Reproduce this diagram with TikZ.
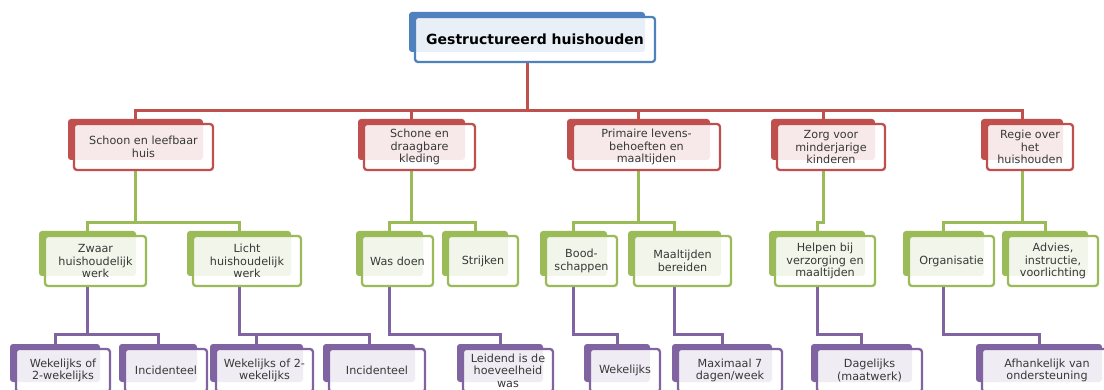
\documentclass[tikz,border=0pt]{standalone}
\usepackage{fontspec}
\setmainfont{DejaVu Sans}
\usetikzlibrary{backgrounds,calc}
\definecolor{cblue}{HTML}{4F81BD}
\definecolor{cred}{HTML}{C0504D}
\definecolor{cgreen}{HTML}{9BBB59}
\definecolor{cpurple}{HTML}{8064A2}
\definecolor{txt}{HTML}{383838}
\tikzset{
  card/.style={draw=#1, line width=2.3pt, rounded corners=3pt, fill=white,
    fill opacity=0.88, draw opacity=1, text opacity=1, inner sep=0pt, outer sep=0pt,
    anchor=north west, align=center, font=\fontsize{11.2}{12.4}\selectfont, text=txt},
  cardback/.style={fill=#1, rounded corners=3pt, inner sep=0pt, outer sep=0pt,
    anchor=north west},
  conn/.style={draw=#1, line width=3pt},
}
% #1 name, #2 colour, #3 left, #4 top, #5 right, #6 bottom, #7 text, #8 extra options
\newcommand\card[8]{%
  \node[cardback=#2, minimum width={(#5-#3-4)*1pt}, minimum height={(#6-#4-5)*1pt}] (#1b) at (#3-6,#4-5) {};
  \node[card=#2, minimum width={(#5-#3)*1pt}, minimum height={(#6-#4)*1pt}, #8] (#1) at (#3,#4) {#7};
}
\begin{document}
\begin{tikzpicture}[x=1pt,y=-1pt]
\useasboundingbox (0,0) rectangle (1104,390);
\clip (0,0) rectangle (1104,390);
\coordinate (y0) at (0,111);
\coordinate (y1) at (0,223);
\coordinate (y2) at (0,335);
% top
\card{top}{cblue}{415}{17}{655}{62}{Gestructureerd huishouden}{font=\fontsize{14}{16}\selectfont\bfseries, text=black}
% level 1
\card{a1}{cred}{74}{124}{213}{170}{Schoon en leefbaar\\huis}{}
\card{a2}{cred}{364}{124}{475}{170}{Schone en\\draagbare\\kleding}{}
\card{a3}{cred}{573}{124}{720}{170}{Primaire levens-\\behoeften en\\maaltijden}{}
\card{a4}{cred}{777}{124}{885}{170}{Zorg voor\\minderjarige\\kinderen}{}
\card{a5}{cred}{987}{124}{1073}{170}{Regie over\\het\\huishouden}{}
% level 2
\card{b1}{cgreen}{45}{236}{146}{286}{Zwaar\\huishoudelijk\\werk}{}
\card{b2}{cgreen}{193}{236}{301}{286}{Licht\\huishoudelijk\\werk}{}
\card{b3}{cgreen}{362}{236}{433}{286}{Was doen}{}
\card{b4}{cgreen}{448}{236}{518}{286}{Strijken}{}
\card{b5}{cgreen}{546}{236}{617}{286}{Bood-\\schappen}{}
\card{b6}{cgreen}{634}{236}{731}{286}{Maaltijden\\bereiden}{}
\card{b7}{cgreen}{775}{236}{875}{286}{Helpen bij\\verzorging en\\maaltijden}{}
\card{b8}{cgreen}{909}{236}{994}{286}{Organisatie}{}
\card{b9}{cgreen}{1008}{236}{1098}{286}{Advies,\\instructie,\\voorlichting}{}
% level 3
\card{c1}{cpurple}{16}{349}{110}{392}{Wekelijks of\\2-wekelijks}{}
\card{c2}{cpurple}{125}{349}{207}{392}{Incidenteel}{}
\card{c3}{cpurple}{216}{349}{313}{392}{Wekelijks of 2-\\wekelijks}{}
\card{c4}{cpurple}{329}{349}{425}{392}{Incidenteel}{}
\card{c5}{cpurple}{463}{349}{553}{392}{Leidend is de\\hoeveelheid\\was}{}
\card{c6}{cpurple}{590}{349}{660}{392}{Wekelijks}{}
\card{c7}{cpurple}{678}{349}{782}{392}{Maximaal 7\\dagen/week}{}
\card{c8}{cpurple}{817}{349}{922}{392}{Dagelijks\\(maatwerk)}{}
\card{c9}{cpurple}{982}{349}{1112}{392}{Afhankelijk van\\ondersteuning}{}
\begin{pgfonlayer}{background}
\foreach \c in {a1,a2,a3,a4,a5}
  \draw[conn=cred] (topb.center |- top.south) |- (\c b.center |- y0) -- (\c b.north);
\foreach \p/\c in {a1/b1,a1/b2,a2/b3,a2/b4,a3/b5,a3/b6,a4/b7,a5/b8,a5/b9}
  \draw[conn=cgreen] (\p b.center |- \p.south) |- (\c b.center |- y1) -- (\c b.north);
\foreach \p/\c in {b1/c1,b1/c2,b2/c3,b2/c4,b3/c5,b5/c6,b6/c7,b7/c8,b8/c9}
  \draw[conn=cpurple] (\p b.center |- \p.south) |- (\c b.center |- y2) -- (\c b.north);
\end{pgfonlayer}
\end{tikzpicture}
\end{document}
